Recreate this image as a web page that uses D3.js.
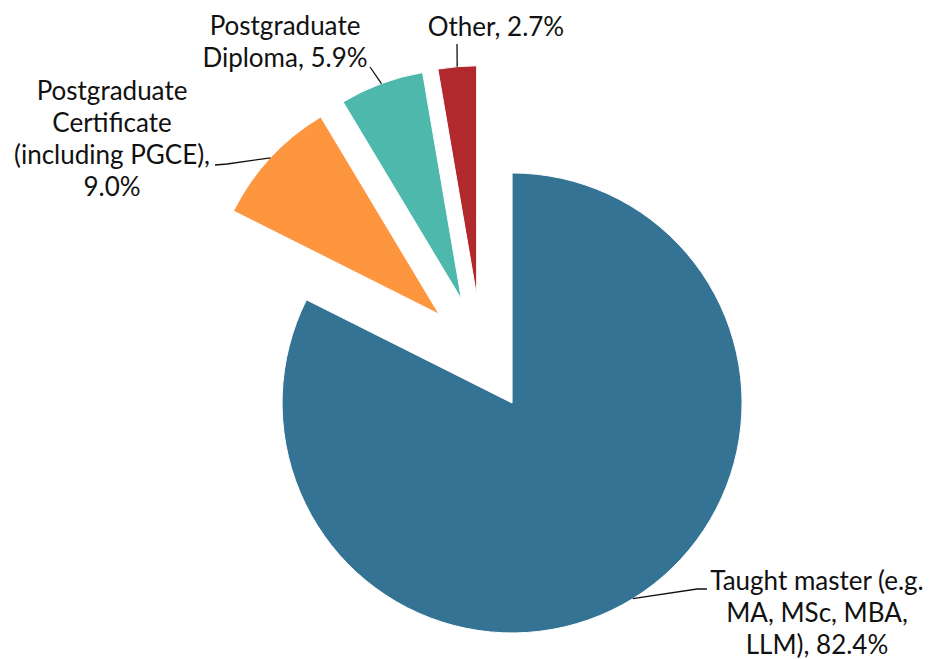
<!DOCTYPE html>
<html>
<head>
<meta charset="utf-8">
<script src="https://cdn.jsdelivr.net/npm/d3@7"></script>
<style>
  html, body { margin: 0; padding: 0; background: #fff; }
  svg { display: block; }
  text { font-family: Lato, "Open Sans", sans-serif; fill: #111; }
</style>
</head>
<body>
<svg id="chart" width="931" height="659"></svg>
<script>
// Qualification types and their share of entrants (%)
const categories = [
  "Taught master (e.g. MA, MSc, MBA, LLM)",
  "Postgraduate Certificate (including PGCE)",
  "Postgraduate Diploma",
  "Other"
];
const values = [82.4, 9.0, 5.9, 2.7];
const colors = ["#357394", "#fd963f", "#4db8ab", "#b1292d"];
// Label text, one entry per line
const labelLines = [
  ["Taught master (e.g.", "MA, MSc, MBA,", "LLM), 82.4%"],
  ["Postgraduate", "Certificate", "(including PGCE),", "9.0%"],
  ["Postgraduate", "Diploma, 5.9%"],
  ["Other, 2.7%"]
];

// Layout
const W = 931, H = 659;
const cx = 481.6, cy = 353.6, radius = 230, explode = 58;
const fontSize = 26, lineH = 32;
// Label block placement: centre x, first baseline y, leader path points (after the slice anchor)
const labelLayout = [
  { x: 817, y: 590, leader: [[697, 589], [707, 589]] },
  { x: 112, y: 100, leader: [[227, 164], [215, 165]] },
  { x: 285, y: 35,  leader: [[370, 67]] },
  { x: 496, y: 36,  leader: [[457, 44]] }
];

const svg = d3.select("#chart");
const data = categories.map((c, i) => ({ name: c, value: values[i], color: colors[i], lines: labelLines[i], layout: labelLayout[i] }));

const pie = d3.pie().sort(null).value(d => d.value).startAngle(0).endAngle(2 * Math.PI);
const arcs = pie(data);
const arc = d3.arc().innerRadius(0).outerRadius(radius);

const g = svg.append("g").attr("transform", `translate(${cx},${cy})`);

function offsetOf(a) {
  const mid = (a.startAngle + a.endAngle) / 2;
  return [explode * Math.sin(mid), -explode * Math.cos(mid)];
}

g.selectAll("path.slice")
  .data(arcs)
  .join("path")
  .attr("class", "slice")
  .attr("transform", d => `translate(${offsetOf(d)})`)
  .attr("d", arc)
  .attr("fill", d => d.data.color)
  .attr("stroke", "#fff")
  .attr("stroke-width", 1);

// Leader lines from the outer edge of each slice
const line = d3.line();
svg.selectAll("path.leader")
  .data(arcs)
  .join("path")
  .attr("class", "leader")
  .attr("d", d => {
    const mid = (d.startAngle + d.endAngle) / 2;
    const [ox, oy] = offsetOf(d);
    const start = [cx + ox + radius * Math.sin(mid), cy + oy - radius * Math.cos(mid)];
    return line([start, ...d.data.layout.leader]);
  })
  .attr("fill", "none")
  .attr("stroke", "#111")
  .attr("stroke-width", 1.3);

// Labels
const labels = svg.selectAll("text.label")
  .data(arcs)
  .join("text")
  .attr("class", "label")
  .attr("text-anchor", "middle")
  .attr("font-size", fontSize);
labels.selectAll("tspan")
  .data(d => d.data.lines.map(t => ({ t, L: d.data.layout })))
  .join("tspan")
  .attr("x", d => d.L.x)
  .attr("y", (d, i) => d.L.y + i * lineH)
  .text(d => d.t);
</script>
</body>
</html>
